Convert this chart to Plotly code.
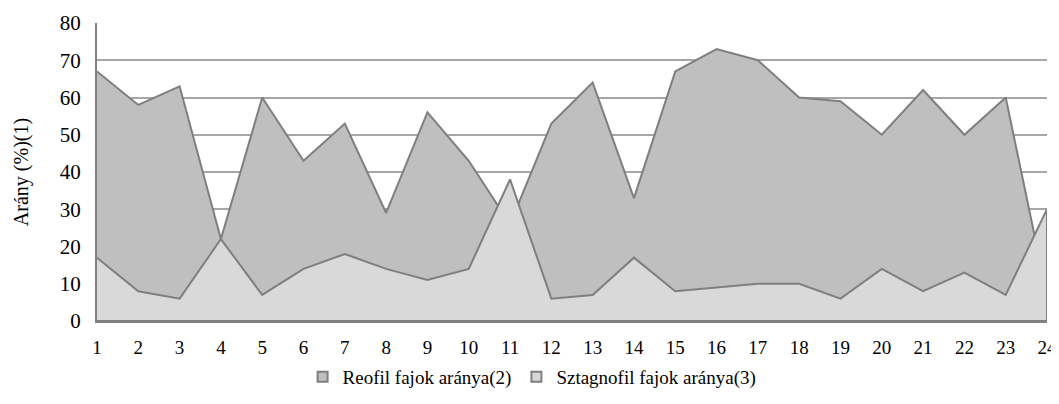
import plotly.graph_objects as go

categories = list(range(1, 25))
reofil = [67, 58, 63, 22, 60, 43, 53, 29, 56, 43, 26, 53, 64, 33, 67, 73, 70, 60, 59, 50, 62, 50, 60, 7]
sztagnofil = [17, 8, 6, 22, 7, 14, 18, 14, 11, 14, 38, 6, 7, 17, 8, 9, 10, 10, 6, 14, 8, 13, 7, 30]
y_ticks = list(range(0, 81, 10))

series = [
    ("Reofil fajok aránya(2)", reofil, "#bfbfbf"),
    ("Sztagnofil fajok aránya(3)", sztagnofil, "#d9d9d9"),
]

FAM = "Liberation Serif"

fig = go.Figure()
for name, vals, col in series:
    xs = categories + [categories[-1], categories[0]]
    ys = vals + [0, 0]
    fig.add_trace(go.Scatter(
        x=xs, y=ys, name=name, mode="lines", fill="toself",
        fillcolor=col, line=dict(color="#7f7f7f", width=2),
        hoverinfo="skip", showlegend=False,
    ))
for name, vals, col in series:
    fig.add_trace(go.Scatter(
        x=[None], y=[None], name=name, mode="markers",
        marker=dict(symbol="square", size=10, color=col,
                    line=dict(color="#7f7f7f", width=2)),
    ))

fig.update_layout(
    width=1051, height=388,
    margin=dict(l=89, r=12, t=15, b=75, autoexpand=False),
    paper_bgcolor="white", plot_bgcolor="white",
    font_family=FAM, font_size=19, font_color="#000000",
    showlegend=True,
    legend=dict(orientation="h", x=0.458, xanchor="center",
                yref="container", y=0.0, yanchor="bottom",
                font=dict(family=FAM, size=19, color="#000000"),
                itemwidth=30, tracegroupgap=0),
)
fig.update_xaxes(
    range=[1, 24], tickmode="array", tickvals=categories,
    ticktext=[str(c) for c in categories],
    tickfont=dict(family=FAM, size=19, color="#000000"),
    showgrid=False, zeroline=False, showline=True, linecolor="#808080", linewidth=2,
    ticks="", ticklabelstandoff=8, ticklabeloverflow="allow",
)
fig.update_yaxes(
    range=[0, 80], tickmode="array", tickvals=y_ticks,
    tickfont=dict(family=FAM, size=21, color="#000000"),
    showgrid=True, gridcolor="#a6a6a6", gridwidth=1.5,
    zeroline=False, showline=True, linecolor="#808080", linewidth=2,
    ticks="", ticklabelstandoff=10,
    title=dict(text="Arány (%)(1)", standoff=26,
               font=dict(family=FAM, size=20, color="#000000")),
)
fig.write_html("out.html")
